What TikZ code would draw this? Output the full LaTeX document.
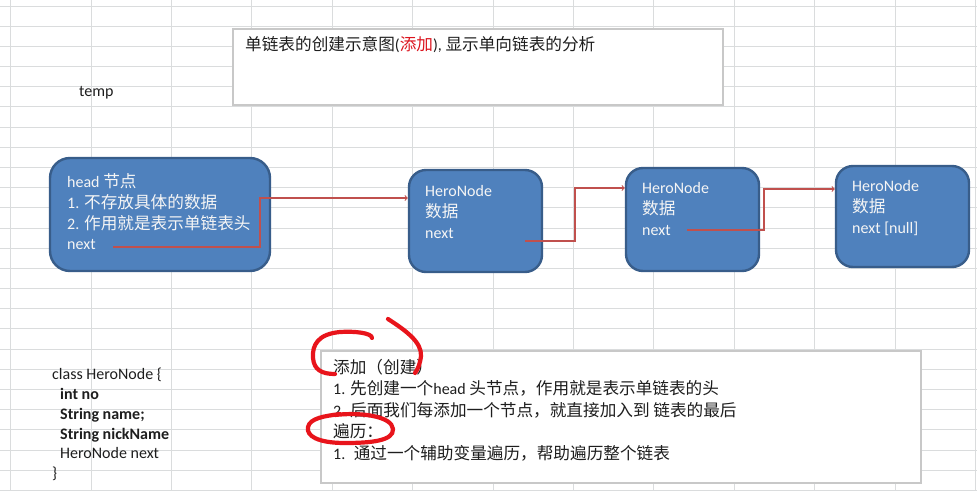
\documentclass[tikz,border=0pt]{standalone}
\usepackage{fontspec}
\setmainfont{Carlito}
\newfontfamily\zh[Scale=1.04]{Noto Sans CJK SC}
\usetikzlibrary{positioning}
\definecolor{nodeblue}{RGB}{79,129,189}
\definecolor{nodeedge}{RGB}{56,93,138}
\definecolor{linkred}{RGB}{192,80,77}
\definecolor{penred}{RGB}{232,20,27}
\definecolor{addred}{RGB}{220,20,30}
\definecolor{gridgray}{RGB}{218,220,221}
\definecolor{boxgray}{RGB}{200,200,200}
\definecolor{ink}{RGB}{30,30,30}
\tikzset{
  cell/.style={draw=gridgray,line width=0.9pt},
  heronode/.style={draw=nodeedge,fill=nodeblue,line width=2.4pt,rounded corners=17pt,inner sep=0pt},
  note/.style={draw=boxgray,fill=white,line width=1.3pt,inner sep=0pt},
  txt/.style={inner sep=0pt,anchor=west,align=left,text=ink,font=\fontsize{16}{21}\selectfont},
  intxt/.style={txt,text=white!96!black},
  link/.style={draw=linkred,line width=1.1pt,->},
  pen/.style={draw=penred,line width=4.2pt,line cap=round,line join=round},
}

\begin{document}
\begin{tikzpicture}[x=1pt,y=-1pt]
    \useasboundingbox (0,0) rectangle (977,490);
    \fill[white] (0,0) rectangle (977,490);
    % sheet grid
    \foreach \i in {0,...,12} \draw[cell] ({10.6+80.4*\i},0) -- ({10.6+80.4*\i},490);
    \foreach \j in {0,...,24} \draw[cell] (0,{6+20.18*\j}) -- (977,{6+20.18*\j});

    % notes
    \node[note,minimum width=490pt,minimum height=76pt] (title) at (478,67) {};
    \node[txt] (titletxt) at (245,45) {{\zh 单链表的创建示意图}(\textcolor{addred}{\zh 添加}), {\zh 显示单向链表的分析}};
    \node[txt] (temp) at (79,93) {temp};
    \node[note,minimum width=600pt,minimum height=132pt] (howto) at (621,417) {};
    \node[txt,font=\fontsize{16}{21.5}\selectfont] (howtotxt) at (333,410) {{\zh 添加（创建）}\\
      1. {\zh 先创建一个}head {\zh 头节点，作用就是表示单链表的头}\\
      2. {\zh 后面我们每添加一个节点，就直接加入到 链表的最后}\\
      {\zh 遍历：}\\
      1.~ {\zh 通过一个辅助变量遍历，帮助遍历整个链表}};
    \node[txt,font=\fontsize{16}{19.8}\selectfont] (classtxt) at (52,424.5) {class HeroNode \{\\
      \hspace*{8pt}\textbf{int no}\\
      \hspace*{8pt}\textbf{String name;}\\
      \hspace*{8pt}\textbf{String nickName}\\
      \hspace*{8pt}HeroNode next\\
      \}};

    % list nodes
    \node[heronode,rounded corners=20pt,minimum width=220pt,minimum height=113pt] (head) at (160,214.5) {};
    \node[heronode,minimum width=133pt,minimum height=102pt] (n2) at (475.5,221) {};
    \node[heronode,minimum width=133pt,minimum height=103pt] (n3) at (692.5,219.5) {};
    \node[heronode,minimum width=133pt,minimum height=101pt] (n4) at (902.5,216.5) {};
    \node[intxt,font=\fontsize{16}{20.7}\selectfont] (headtxt) at (67,212) {head {\zh 节点}\\1. {\zh 不存放具体的数据}\\2. {\zh 作用就是表示单链表头}\\next};
    \node[intxt] (n2txt) at (425,212) {HeroNode\\{\zh 数据}\\next};
    \node[intxt] (n3txt) at (642,209.5) {HeroNode\\{\zh 数据}\\next};
    \node[intxt] (n4txt) at (852,208) {HeroNode\\{\zh 数据}\\next [null]};

    % next pointers
    \coordinate (headnext) at (113,247);
    \coordinate (n2next) at (525,241);
    \coordinate (n3next) at (687,230);
    \draw[link] (headnext) -- ++(147,0) |- ([yshift=23pt]n2.west);
    \draw[link] (n2next) -- ++(50,0) |- ([yshift=31.5pt]n3.west);
    \draw[link] (n3next) -- ++(77,0) |- ([yshift=27.5pt]n4.west);

    % hand marks
    \draw[pen] (388,319) .. controls (405,330) and (422,342) .. (421,356) .. controls (420,364) and (418,369) .. (415,373);
    \draw[pen] (372,338) .. controls (372,333) and (355,331) .. (340,332) .. controls (318,334) and (312,345) .. (313,358) .. controls (314,370) and (322,374) .. (335,374);
    \draw[pen] (335,415) .. controls (360,412) and (392,416) .. (393,429) .. controls (394,441) and (370,443) .. (345,443) .. controls (318,443) and (306,436) .. (308,427) .. controls (310,418) and (325,416) .. (340,414);
\end{tikzpicture}
\end{document}
